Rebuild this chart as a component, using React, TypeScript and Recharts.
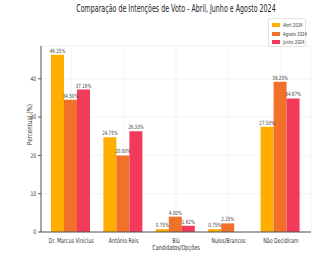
import React from "react";
import {
  Bar,
  BarChart,
  CartesianGrid,
  LabelList,
  Legend,
  XAxis,
  YAxis,
} from "recharts";

const categories = [
  "Dr. Marcus Vinícius",
  "Antônio Reis",
  "Biú",
  "Nulos/Brancos",
  "Não Decidiram",
];
const abril = [46.25, 24.75, 0.75, 0.75, 27.5];
const agosto = [34.5, 20.0, 4.0, 2.25, 39.25];
const junho = [37.18, 26.33, 1.62, 0.0, 34.87];
const yTicks = [0, 10, 20, 30, 40];

const series = [
  { key: "abril", name: "Abril 2024", color: "#FFAE00" },
  { key: "agosto", name: "Agosto 2024", color: "#F2712A" },
  { key: "junho", name: "Junho 2024", color: "#F23A5A" },
];

const data = categories.map((name, i) => ({
  name,
  abril: abril[i],
  agosto: agosto[i],
  junho: junho[i],
}));

const FONT = '"DejaVu Sans", sans-serif';
// no condensed face is installed, so text gets squeezed horizontally
const SQUEEZE = 0.7;

const pct = (v: unknown) => `${Number(v).toFixed(2)}%`;

function NarrowText({ x, y, text, size, anchor = "middle", fill = "#333" }: any) {
  return (
    <g transform={`translate(${x},${y}) scale(${SQUEEZE},1)`}>
      <text
        textAnchor={anchor}
        fontSize={size}
        fontFamily={FONT}
        fill={fill}
      >
        {text}
      </text>
    </g>
  );
}

function XTick({ x, y, payload }: any) {
  return <NarrowText x={x} y={y + 3} text={payload.value} size={6.8} />;
}

function YTick({ x, y, payload }: any) {
  return <NarrowText x={x} y={y + 2.2} text={payload.value} size={6.3} anchor="end" />;
}

function BarValue({ x, y, width, value }: any) {
  return (
    <NarrowText
      x={Number(x) + Number(width) / 2}
      y={Number(y) - 2}
      text={pct(value)}
      size={5.8}
      fill="#444"
    />
  );
}

function LegendBox() {
  return (
    <div
      style={{
        width: 38,
        height: 29,
        boxSizing: "border-box",
        background: "white",
        border: "1px solid #e2e2e2",
        borderRadius: 2,
        padding: "2px 3px",
        fontFamily: FONT,
        fontSize: 5.4,
        color: "#333",
      }}
    >
      {series.map((s) => (
        <div
          key={s.key}
          style={{ display: "flex", alignItems: "center", height: 8.5 }}
        >
          <span
            style={{
              display: "inline-block",
              flex: "none",
              width: 8,
              height: 4,
              background: s.color,
              marginRight: 3,
            }}
          />
          <span
            style={{
              whiteSpace: "nowrap",
              transform: `scaleX(${SQUEEZE})`,
              transformOrigin: "left center",
            }}
          >
            {s.name}
          </span>
        </div>
      ))}
    </div>
  );
}

export default function App() {
  return (
    <div
      style={{
        position: "absolute",
        left: 0,
        top: 0,
        width: 320,
        height: 259,
        background: "white",
        fontFamily: FONT,
        color: "#333",
      }}
    >
      <div
        style={{
          position: "absolute",
          top: 3,
          left: 0,
          width: 352,
          textAlign: "center",
          fontSize: 9.6,
          whiteSpace: "nowrap",
          color: "#222",
          transform: "scaleX(0.66)",
          transformOrigin: "176px 0",
        }}
      >
        Comparação de Intenções de Voto - Abril, Junho e Agosto 2024
      </div>
      <div
        style={{
          position: "absolute",
          top: 244,
          left: 0,
          width: 352,
          textAlign: "center",
          fontSize: 7,
          whiteSpace: "nowrap",
          transform: `scaleX(${SQUEEZE})`,
          transformOrigin: "176px 0",
        }}
      >
        Candidatos/Opções
      </div>
      <BarChart
        width={320}
        height={259}
        data={data}
        margin={{ top: 17, right: 9, bottom: 0, left: 0 }}
        barCategoryGap={6}
        barGap={0}
      >
        <CartesianGrid stroke="#ebebeb" strokeWidth={0.6} />
        <XAxis
          dataKey="name"
          height={27}
          padding={{ left: 4, right: 4 }}
          interval={0}
          tick={<XTick />}
          tickLine={false}
          axisLine={{ stroke: "#555" }}
        />
        <YAxis
          width={41}
          domain={[0, 48.56]}
          ticks={yTicks}
          tick={<YTick />}
          tickSize={3}
          tickLine={{ stroke: "#555" }}
          axisLine={{ stroke: "#555" }}
          label={{
            value: "Percentual (%)",
            angle: -90,
            position: "left",
            content: () => (
              <g transform="translate(32,124.5) rotate(-90) scale(0.8,1)">
                <text textAnchor="middle" fontSize={7} fontFamily={FONT} fill="#333">
                  Percentual (%)
                </text>
              </g>
            ),
          }}
        />
        <Legend
          verticalAlign="top"
          align="right"
          content={() => <LegendBox />}
          wrapperStyle={{ top: 18, right: 14, left: "auto", width: "auto" }}
        />
        {series.map((s) => (
          <Bar
            key={s.key}
            dataKey={s.key}
            name={s.name}
            fill={s.color}
            isAnimationActive={false}
          >
            <LabelList dataKey={s.key} content={<BarValue />} />
          </Bar>
        ))}
      </BarChart>
    </div>
  );
}
